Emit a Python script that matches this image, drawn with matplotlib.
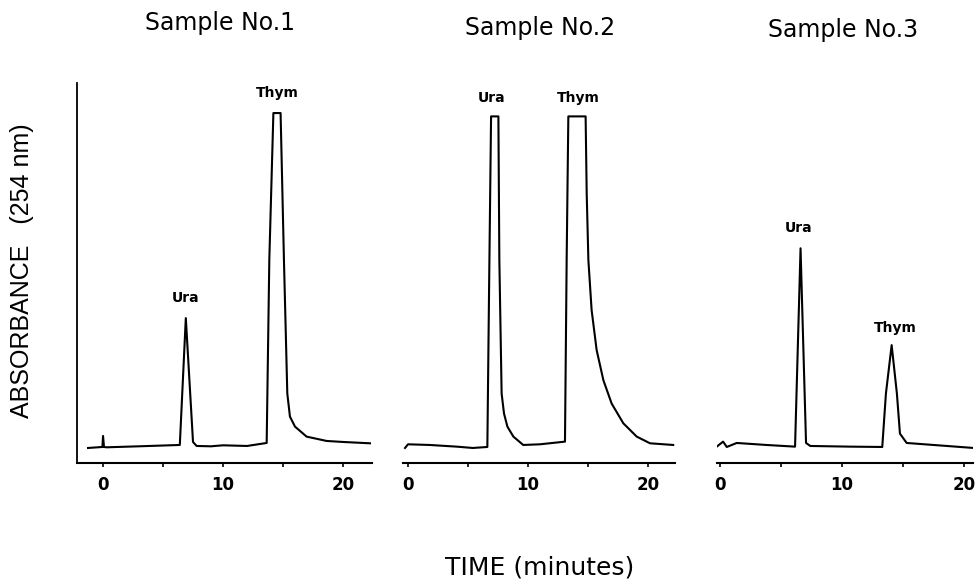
import numpy as np
import matplotlib.pyplot as plt

# Sample No.1  (time in minutes, absorbance in arbitrary units, 100 = off scale)
t1 = [-1.25, -0.05, 0.0, 0.08, 0.3, 3.0, 6.4, 6.9, 7.5, 7.8, 9.0, 10.0, 12.0, 13.64,
      13.86, 14.2, 14.8, 15.08, 15.36, 15.58, 16.0, 16.97, 18.64, 20.0, 22.25]
a1 = [-0.3, 0.0, 3.3, 0.0, -0.1, 0.2, 0.6, 38.6, 1.5, 0.3, 0.2, 0.5, 0.3, 1.2,
      56, 100, 100, 56, 16, 9.1, 6.1, 3.1, 1.8, 1.5, 1.1]

# Sample No.2
t2 = [-0.25, 0.0, 1.8, 4.05, 5.4, 6.61, 6.75, 6.92, 7.53, 7.61, 7.8, 8.0, 8.28,
      8.78, 9.6, 11.0, 13.08, 13.22, 13.36, 14.8, 14.89, 15.03, 15.3, 15.72, 16.28,
      16.97, 17.94, 19.06, 20.17, 22.1]
a2 = [-0.3, 0.8, 0.6, 0.1, -0.3, 0.0, 46, 99, 99, 56, 16, 10, 6.1,
      3.1, 0.6, 0.8, 1.6, 56, 99, 99, 76, 56, 41, 29, 20,
      13, 7.1, 3.1, 1.1, 0.6]

# Sample No.3
t3 = [-0.27, 0.25, 0.55, 1.37, 3.8, 6.15, 6.6, 7.05, 7.4, 10.65, 13.3, 13.6,
      14.07, 14.5, 14.75, 15.3, 17.5, 20.8]
a3 = [0.1, 1.6, 0.0, 1.2, 0.6, 0.1, 59.5, 1.2, 0.3, 0.1, 0.0, 16,
      30.5, 16, 4, 1.2, 0.6, -0.3]

titles = ['Sample No.1', 'Sample No.2', 'Sample No.3']
# peak labels: (time, absorbance, text)
labels1 = [(6.9, 44.6, 'Ura'), (14.5, 106, 'Thym')]
labels2 = [(7.0, 104.5, 'Ura'), (14.2, 104.5, 'Thym')]
labels3 = [(6.4, 65.6, 'Ura'), (14.4, 35.6, 'Thym')]
xticks = [0, 10, 20]

fig = plt.figure(figsize=(9.8, 5.81), dpi=100)
bot = 118 / 581
h = 380 / 581
ax1 = fig.add_axes([77 / 980, bot, 295 / 980, h])
ax2 = fig.add_axes([403 / 980, bot, 272 / 980, h])
ax3 = fig.add_axes([717 / 980, bot, 256 / 980, h])

panels = [(ax1, t1, a1, labels1, (-2.17, 22.42)),
          (ax2, t2, a2, labels2, (-0.42, 22.25)),
          (ax3, t3, a3, labels3, (-0.25, 20.74))]

for ax, t, a, labs, xl in panels:
    ax.plot(t, a, color='black', lw=1.5)
    for x, y, s in labs:
        ax.text(x, y, s, ha='center', va='center', fontsize=10, fontweight='bold')
    ax.set_xlim(xl)
    ax.set_ylim(-4.8, 109)
    ax.set_xticks(xticks)
    ax.set_xticks([5, 15], minor=True)
    ax.set_xticklabels([str(v) for v in xticks], fontsize=12, fontweight='bold')
    ax.tick_params(axis='x', which='both', direction='out', length=3, width=1.2, pad=6)
    ax.set_yticks([])
    ax.spines['top'].set_visible(False)
    ax.spines['right'].set_visible(False)
    ax.spines['bottom'].set_linewidth(1.5)
    if ax is not ax1:
        ax.spines['left'].set_visible(False)
    else:
        ax.spines['left'].set_linewidth(1.3)

fig.text(220 / 980, 1 - 23 / 581, titles[0], ha='center', va='center', fontsize=17)
fig.text(540 / 980, 1 - 28 / 581, titles[1], ha='center', va='center', fontsize=17)
fig.text(843 / 980, 1 - 30 / 581, titles[2], ha='center', va='center', fontsize=17)
fig.text(540 / 980, 1 - 567 / 581, 'TIME (minutes)', ha='center', va='center',
         fontsize=18)
fig.text(22 / 980, 1 - 271 / 581, 'ABSORBANCE   (254 nm)', ha='center', va='center',
         rotation=90, fontsize=18, family='Liberation Sans')

fig.savefig('out.png', dpi=100)
